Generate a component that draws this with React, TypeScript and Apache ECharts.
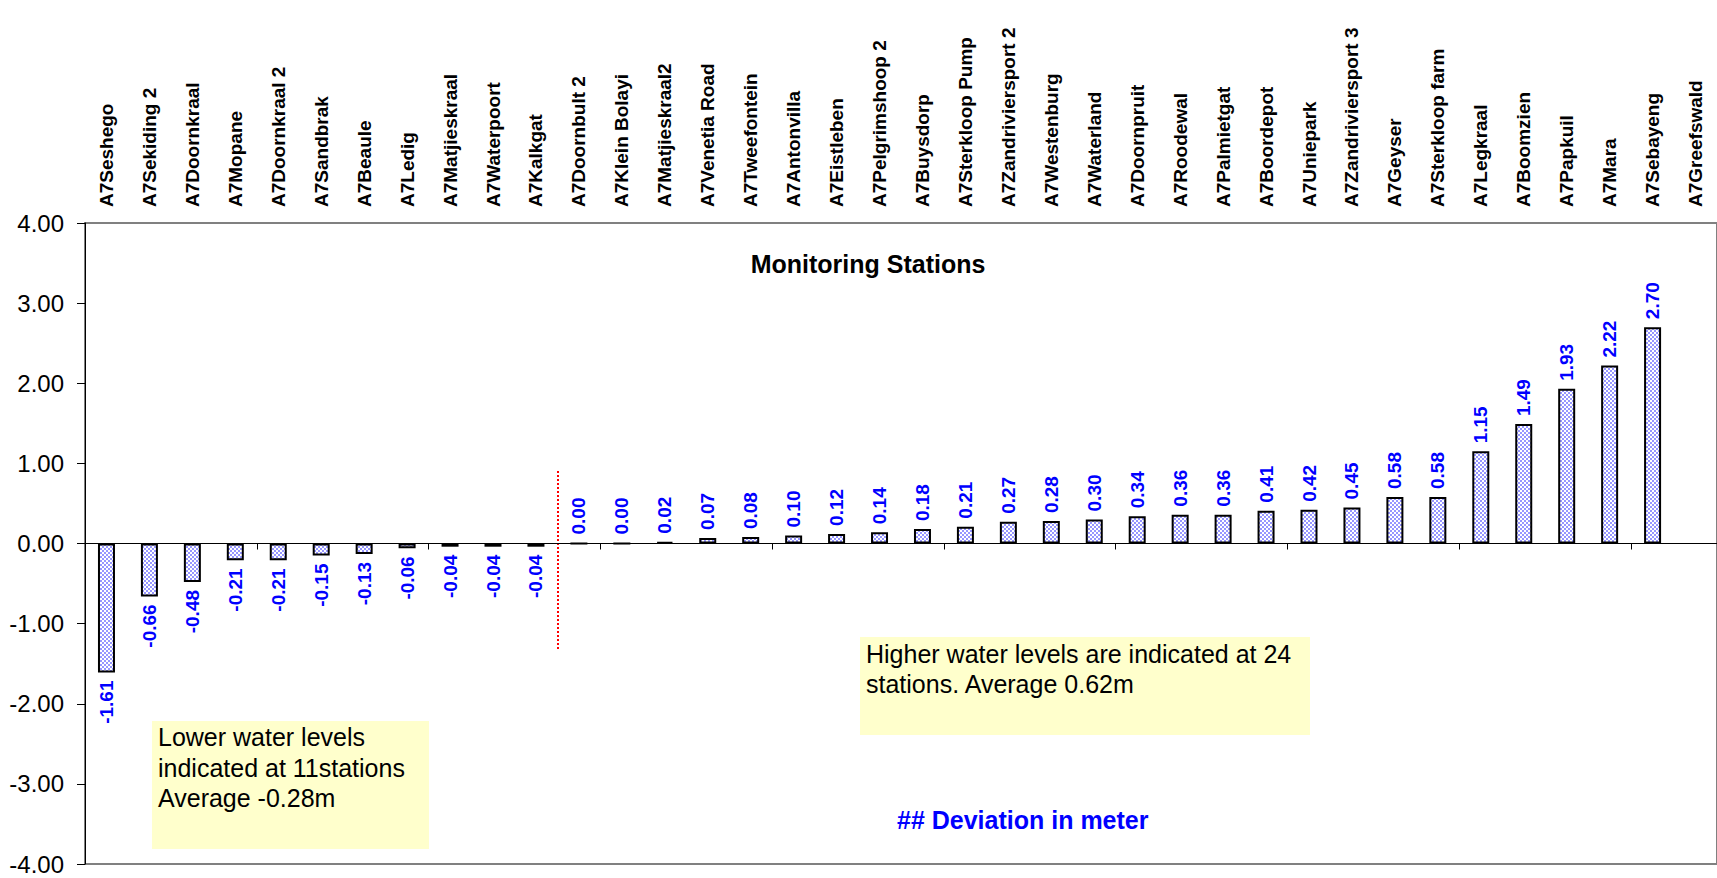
import React, { useEffect, useRef } from "react";
import * as echarts from "echarts";

const categories: string[] = [
  "A7Seshego", "A7Sekiding 2", "A7Doornkraal", "A7Mopane", "A7Doornkraal 2",
  "A7Sandbrak", "A7Beaule", "A7Ledig", "A7Matjieskraal", "A7Waterpoort",
  "A7Kalkgat", "A7Doornbult 2", "A7Klein Bolayi", "A7Matjieskraal2",
  "A7Venetia Road", "A7Tweefontein", "A7Antonvilla", "A7Eistleben",
  "A7Pelgrimshoop 2", "A7Buysdorp", "A7Sterkloop Pump", "A7Zandriviersport 2",
  "A7Westenburg", "A7Waterland", "A7Doornpruit", "A7Roodewal", "A7Palmietgat",
  "A7Boordepot", "A7Uniepark", "A7Zandriviersport 3", "A7Geyser",
  "A7Sterkloop farm", "A7Legkraal", "A7Boomzien", "A7Papkuil", "A7Mara",
  "A7Sebayeng", "A7Greefswald",
];

const deviation: (number | null)[] = [
  -1.61, -0.66, -0.48, -0.21, -0.21, -0.15, -0.13, -0.06, -0.04, -0.04, -0.04,
  0.0, 0.0, 0.02, 0.07, 0.08, 0.1, 0.12, 0.14, 0.18, 0.21, 0.27, 0.28, 0.3,
  0.34, 0.36, 0.36, 0.41, 0.42, 0.45, 0.58, 0.58, 1.15, 1.49, 1.93, 2.22, 2.7,
  null,
];

const yTicks = { min: -4, max: 4, interval: 1 };

const chartTitle = "Monitoring Stations";
const unitNote = "## Deviation in meter";
const lowerNote = "Lower water levels\nindicated at 11stations\nAverage -0.28m";
const higherNote = "Higher water levels are indicated at 24\nstations. Average 0.62m";

const FONT = 'Arial, "Liberation Sans", Helvetica, sans-serif';

function makePattern() {
  const c = document.createElement("canvas");
  c.width = 4;
  c.height = 4;
  const ctx = c.getContext("2d")!;
  ctx.fillStyle = "#ffffff";
  ctx.fillRect(0, 0, 4, 4);
  ctx.fillStyle = "#9696ff";
  ctx.fillRect(0, 0, 2, 2);
  ctx.fillRect(2, 2, 2, 2);
  return c;
}

export default function App() {
  const ref = useRef<HTMLDivElement>(null);

  useEffect(() => {
    if (!ref.current) return;
    const chart = echarts.init(ref.current, null, { renderer: "svg" });
    const pattern: any = {
      image: makePattern(),
      repeat: "repeat",
      imageWidth: 4,
      imageHeight: 4,
    };

    const seriesData = deviation.map((v) => {
      if (v === null) return { value: null as any };
      const neg = v < 0;
      return {
        value: v,
        label: {
          position: neg ? "bottom" : "top",
          align: neg ? "right" : "left",
        },
      };
    });

    const option: any = {
      animation: false,
      backgroundColor: "#ffffff",
      grid: {
        left: 85,
        top: 223,
        width: 1634,
        height: 641,
        show: true,
        borderColor: "#808080",
        borderWidth: 2,
        backgroundColor: "transparent",
      },
      xAxis: [
        {
          type: "category",
          data: categories,
          position: "bottom",
          boundaryGap: true,
          axisLine: { show: true, onZero: true, lineStyle: { color: "#000", width: 1 } },
          axisTick: { show: true, length: 6, inside: false, lineStyle: { color: "#000" } },
          axisLabel: { show: false },
          splitLine: { show: false },
        },
        {
          type: "category",
          data: categories,
          position: "top",
          boundaryGap: true,
          axisLine: { show: false },
          axisTick: { show: false },
          axisLabel: {
            show: true,
            interval: 0,
            rotate: -90,
            align: "left",
            verticalAlign: "middle",
            margin: 16,
            fontSize: 19,
            fontWeight: "bold",
            color: "#000",
            fontFamily: FONT,
            hideOverlap: false,
          },
          splitLine: { show: false },
        },
      ],
      yAxis: {
        type: "value",
        min: yTicks.min,
        max: yTicks.max,
        interval: yTicks.interval,
        axisLine: { show: true, lineStyle: { color: "#000", width: 1 } },
        axisTick: { show: true, length: 8, inside: false, lineStyle: { color: "#000" } },
        axisLabel: {
          formatter: (v: number) => v.toFixed(2),
          fontSize: 24,
          color: "#000",
          margin: 21,
          fontFamily: FONT,
        },
        splitLine: { show: false },
      },
      series: [
        {
          type: "bar",
          xAxisIndex: 0,
          yAxisIndex: 0,
          data: seriesData,
          barWidth: 17,
          itemStyle: {
            color: pattern,
            borderColor: "#000",
            borderWidth: 2,
          },
          label: {
            show: true,
            rotate: 90,
            distance: 8,
            verticalAlign: "middle",
            formatter: (p: any) => (p.value == null ? "" : Number(p.value).toFixed(2)),
            color: "#0000ff",
            fontWeight: "bold",
            fontSize: 19,
            fontFamily: FONT,
          },
        },
      ],
      graphic: [
        {
          type: "text",
          x: 868,
          y: 264,
          style: {
            text: chartTitle,
            font: `bold 25px ${FONT}`,
            fill: "#000",
            textAlign: "center",
            textVerticalAlign: "middle",
          },
        },
        {
          type: "line",
          shape: { x1: 558, y1: 471, x2: 558, y2: 651 },
          style: { stroke: "#ff0000", lineWidth: 2, lineDash: [2, 2] },
        },
        {
          type: "rect",
          shape: { x: 152, y: 721, width: 277, height: 128 },
          style: { fill: "#ffffcc" },
        },
        {
          type: "text",
          x: 158,
          y: 722,
          style: {
            text: lowerNote,
            font: `25px ${FONT}`,
            lineHeight: 30.5,
            fill: "#000",
            textAlign: "left",
            textVerticalAlign: "top",
          },
        },
        {
          type: "rect",
          shape: { x: 860, y: 637, width: 450, height: 98 },
          style: { fill: "#ffffcc" },
        },
        {
          type: "text",
          x: 866,
          y: 639,
          style: {
            text: higherNote,
            font: `25px ${FONT}`,
            lineHeight: 30,
            fill: "#000",
            textAlign: "left",
            textVerticalAlign: "top",
          },
        },
        {
          type: "text",
          x: 897,
          y: 820,
          style: {
            text: unitNote,
            font: `bold 25px ${FONT}`,
            fill: "#0000ff",
            textAlign: "left",
            textVerticalAlign: "middle",
          },
        },
      ],
    };

    chart.setOption(option);
    return () => chart.dispose();
  }, []);

  return (
    <div
      ref={ref}
      style={{ position: "fixed", left: 0, top: 0, width: 1717, height: 878, background: "#fff" }}
    />
  );
}
